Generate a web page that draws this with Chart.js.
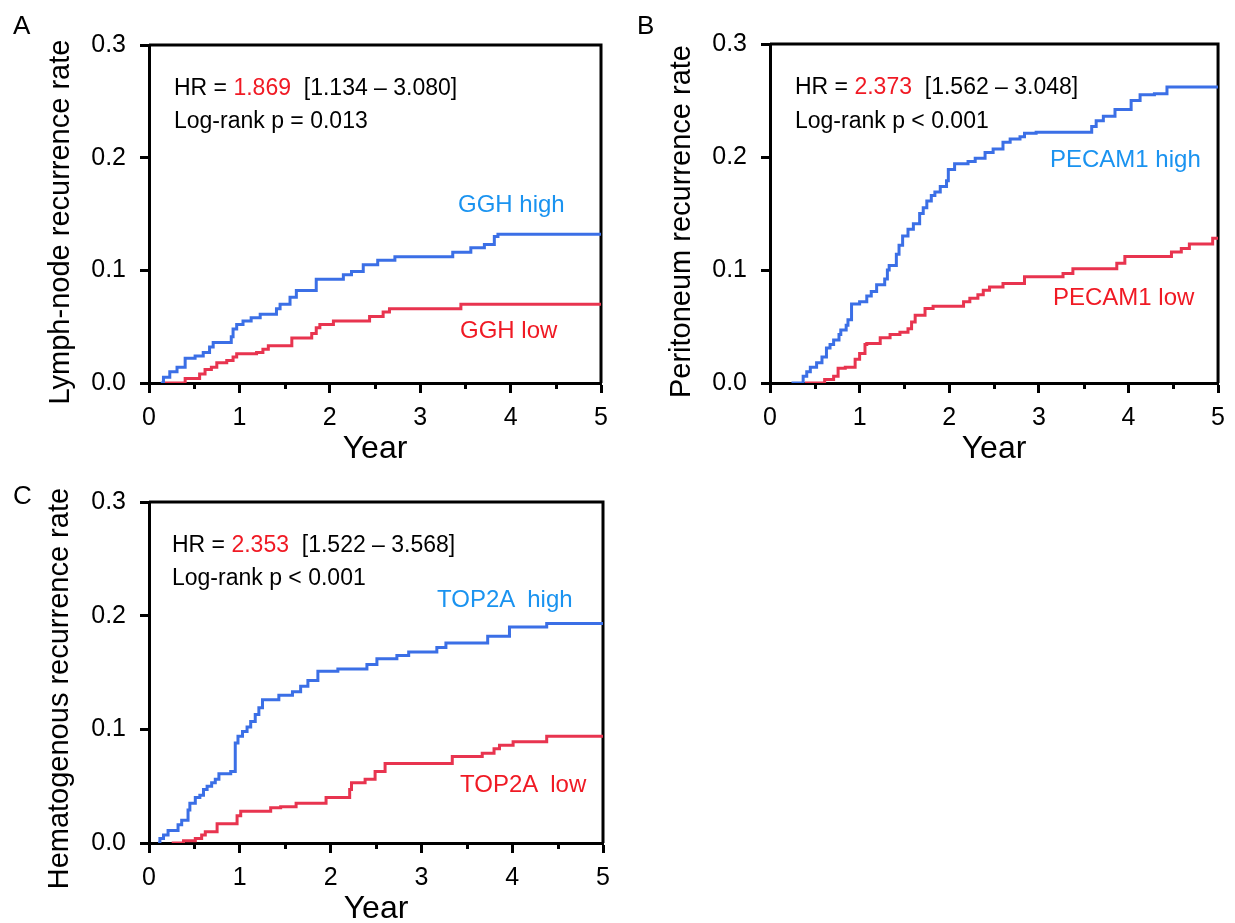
<!DOCTYPE html>
<html>
<head>
<meta charset="utf-8">
<script src="https://cdn.jsdelivr.net/npm/chart.js@4.4.1/dist/chart.umd.min.js"></script>
<style>
  html, body { margin: 0; padding: 0; background: #fff; overflow: hidden; width: 1235px; height: 923px; }
  canvas { position: absolute; }
  .t { position: absolute; white-space: pre; font-family: 'Liberation Sans', Arial, sans-serif; line-height: 1; color: #000; }
</style>
</head>
<body>
<canvas id="cA" width="620" height="470" style="left:0px;top:0px"></canvas>
<canvas id="cB" width="615" height="470" style="left:620px;top:0px"></canvas>
<canvas id="cC" width="620" height="470" style="left:0px;top:460px"></canvas>
<script>
// ---------- data (years, cumulative recurrence rate) ----------
const xTickLabels = ['0', '1', '2', '3', '4', '5'];
const yTickLabels = ['0.0', '0.1', '0.2', '0.3'];

// Panel A: lymph-node recurrence, GGH
const ggHighT = [0.13, 0.16, 0.23, 0.31, 0.40, 0.51, 0.60, 0.67, 0.71, 0.91, 0.93, 0.97, 1.04, 1.13, 1.23, 1.41, 1.45, 1.56, 1.63, 1.85, 2.15, 2.24, 2.37, 2.53, 2.72, 3.36, 3.56, 3.71, 3.82, 3.86, 5];
const ggHighY = [0, 0.005, 0.010, 0.014, 0.022, 0.024, 0.027, 0.032, 0.036, 0.041, 0.048, 0.052, 0.055, 0.058, 0.061, 0.066, 0.070, 0.076, 0.082, 0.092, 0.096, 0.099, 0.105, 0.109, 0.112, 0.116, 0.120, 0.123, 0.130, 0.132, 0.132];
const ggLowT = [0.16, 0.40, 0.56, 0.62, 0.69, 0.75, 0.86, 0.93, 0.97, 1.19, 1.26, 1.32, 1.58, 1.80, 1.85, 1.89, 2.04, 2.44, 2.59, 2.66, 3.45, 5];
const ggLowY = [0, 0.004, 0.008, 0.012, 0.014, 0.018, 0.020, 0.023, 0.026, 0.027, 0.030, 0.033, 0.040, 0.044, 0.049, 0.052, 0.055, 0.059, 0.063, 0.066, 0.070, 0.070];

// Panel B: peritoneum recurrence, PECAM1
const pcHighT = [0.24, 0.37, 0.41, 0.45, 0.52, 0.58, 0.63, 0.67, 0.71, 0.77, 0.79, 0.85, 0.87, 0.91, 1.00, 1.08, 1.13, 1.19, 1.28, 1.31, 1.33, 1.41, 1.44, 1.48, 1.54, 1.60, 1.67, 1.71, 1.75, 1.80, 1.84, 1.90, 1.97, 1.99, 2.06, 2.21, 2.29, 2.40, 2.49, 2.60, 2.68, 2.79, 2.84, 2.97, 3.59, 3.64, 3.72, 3.85, 4.03, 4.13, 4.29, 4.43, 5];
const pcHighY = [0, 0.006, 0.010, 0.014, 0.018, 0.023, 0.031, 0.034, 0.038, 0.043, 0.047, 0.051, 0.056, 0.070, 0.072, 0.077, 0.081, 0.087, 0.092, 0.100, 0.104, 0.114, 0.122, 0.130, 0.136, 0.141, 0.150, 0.155, 0.161, 0.166, 0.169, 0.174, 0.179, 0.189, 0.194, 0.196, 0.199, 0.204, 0.207, 0.213, 0.216, 0.218, 0.221, 0.222, 0.227, 0.232, 0.236, 0.242, 0.250, 0.255, 0.256, 0.262, 0.262];
const pcLowT = [0.39, 0.61, 0.71, 0.76, 0.84, 0.95, 1.00, 1.06, 1.08, 1.23, 1.34, 1.45, 1.54, 1.58, 1.62, 1.73, 1.82, 2.16, 2.23, 2.32, 2.38, 2.45, 2.60, 2.84, 3.27, 3.38, 3.87, 3.96, 4.48, 4.59, 4.68, 4.94, 5];
const pcLowY = [0, 0.003, 0.006, 0.013, 0.014, 0.021, 0.026, 0.034, 0.035, 0.040, 0.043, 0.045, 0.048, 0.054, 0.060, 0.066, 0.068, 0.072, 0.075, 0.078, 0.082, 0.085, 0.088, 0.094, 0.097, 0.101, 0.106, 0.112, 0.116, 0.119, 0.123, 0.128, 0.128];

// Panel C: hematogenous recurrence, TOP2A
const t2HighT = [0.10, 0.12, 0.16, 0.21, 0.32, 0.36, 0.43, 0.45, 0.51, 0.56, 0.60, 0.64, 0.69, 0.73, 0.77, 0.90, 0.95, 0.98, 1.03, 1.08, 1.12, 1.17, 1.21, 1.25, 1.43, 1.58, 1.67, 1.75, 1.86, 2.08, 2.40, 2.51, 2.73, 2.86, 3.17, 3.27, 3.73, 3.97, 4.38, 5];
const t2HighY = [0, 0.004, 0.007, 0.011, 0.016, 0.020, 0.029, 0.035, 0.040, 0.042, 0.047, 0.050, 0.053, 0.056, 0.061, 0.063, 0.088, 0.094, 0.098, 0.102, 0.107, 0.113, 0.119, 0.126, 0.130, 0.133, 0.138, 0.143, 0.151, 0.153, 0.157, 0.162, 0.165, 0.168, 0.172, 0.176, 0.182, 0.190, 0.193, 0.193];
const t2LowT = [0.25, 0.38, 0.51, 0.58, 0.62, 0.75, 0.97, 1.01, 1.34, 1.45, 1.62, 1.95, 2.21, 2.23, 2.38, 2.49, 2.60, 3.34, 3.67, 3.80, 3.86, 4.01, 4.38, 5];
const t2LowY = [0, 0.002, 0.004, 0.007, 0.010, 0.017, 0.024, 0.028, 0.031, 0.032, 0.035, 0.040, 0.047, 0.053, 0.056, 0.063, 0.070, 0.076, 0.079, 0.083, 0.086, 0.089, 0.094, 0.094];

// ---------- styling ----------
const FONT = "'Liberation Sans', Arial, Helvetica, sans-serif";
const BLUE_LINE = '#3b6fe6';
const RED_LINE = '#e8344f';
const BLUE_TEXT = '#1a93f0';
const RED_TEXT = '#f01a24';
Chart.defaults.font.family = FONT;
Chart.defaults.color = '#000';

const framePlugin = {
  id: 'frame',
  beforeDatasetsDraw(chart) {
    const {ctx, chartArea: a, scales: {x}} = chart;
    ctx.save();
    ctx.strokeStyle = '#000';
    ctx.lineWidth = 3;
    ctx.beginPath();
    ctx.moveTo(a.left, a.top); ctx.lineTo(a.right, a.top); ctx.lineTo(a.right, a.bottom);
    ctx.stroke();
    // minor ticks on x axis (half years)
    ctx.beginPath();
    for (let v = 0.5; v < 5; v += 1) {
      const px = Math.round(x.getPixelForValue(v)) + 0.5;
      ctx.moveTo(px, a.bottom); ctx.lineTo(px, a.bottom + 6);
    }
    ctx.stroke();
    ctx.restore();
  }
};

function pts(t, y) { return t.map((v, i) => ({x: v, y: y[i]})); }

function makePanel(id, g, hiT, hiY, loT, loY, yTitle) {
  return new Chart(document.getElementById(id), {
    type: 'line',
    data: {
      datasets: [
        {data: pts(hiT, hiY), borderColor: BLUE_LINE, borderWidth: 3, stepped: 'before', pointRadius: 0, fill: false},
        {data: pts(loT, loY), borderColor: RED_LINE, borderWidth: 3, stepped: 'before', pointRadius: 0, fill: false}
      ]
    },
    options: {
      responsive: false, animation: false, events: [],
      layout: {padding: {top: g.top, right: g.right, left: 0, bottom: 0}},
      plugins: {legend: {display: false}, tooltip: {enabled: false}},
      scales: {
        x: {
          type: 'linear', min: 0, max: 5,
          afterFit: s => { s.height = g.xh; },
          ticks: {stepSize: 0.5, autoSkip: false, maxRotation: 0, padding: 10, color: '#000',
                  font: {size: 25},
                  callback: v => Number.isInteger(v) ? xTickLabels[v] : ''},
          grid: {drawOnChartArea: false, tickLength: 10, tickWidth: 3,
                 tickColor: c => (c.tick && Number.isInteger(c.tick.value)) ? '#000' : 'rgba(0,0,0,0)'},
          border: {color: '#000', width: 3},
          title: {display: true, text: 'Year', color: '#000', font: {size: 32}, padding: {top: 0, bottom: g.yearPad}}
        },
        y: {
          type: 'linear', min: 0, max: 0.3,
          afterFit: s => { s.width = g.yw; },
          ticks: {stepSize: 0.1, padding: 14, color: '#000', font: {size: 25},
                  callback: v => yTickLabels[Math.round(v * 10)]},
          grid: {drawOnChartArea: false, tickLength: 9, tickWidth: 3, tickColor: '#000'},
          border: {color: '#000', width: 3},
          title: {display: true, text: yTitle + '\u00a0'.repeat(g.titleShift), color: '#000', font: {size: 29}, padding: {top: g.titlePad, bottom: 0}}
        }
      }
    },
    plugins: [framePlugin]
  });
}

makePanel('cA', {top: 45, right: 19, xh: 87, yw: 149, yearPad: 2, titlePad: 44, titleShift: 2}, ggHighT, ggHighY, ggLowT, ggLowY, 'Lymph-node recurrence rate');
makePanel('cB', {top: 44, right: 12, xh: 87, yw: 150, yearPad: 2, titlePad: 45, titleShift: 2}, pcHighT, pcHighY, pcLowT, pcLowY, 'Peritoneum recurrence rate');
makePanel('cC', {top: 42, right: 17, xh: 87, yw: 149, yearPad: 2, titlePad: 43, titleShift: 4}, t2HighT, t2HighY, t2LowT, t2LowY, 'Hematogenous recurrence rate');

// ---------- text annotations ----------
function addText(x, baseline, size, html, color) {
  const d = document.createElement('div');
  d.className = 't';
  d.style.left = x + 'px';
  d.style.top = (baseline - 0.847 * size) + 'px';
  d.style.fontSize = size + 'px';
  if (color) d.style.color = color;
  d.innerHTML = html;
  document.body.appendChild(d);
}
const red = s => '<span style="color:' + RED_TEXT + '">' + s + '</span>';

addText(13, 34, 26, 'A');
addText(637, 34, 26, 'B');
addText(13, 504, 26, 'C');

addText(174, 95, 23, 'HR = ' + red('1.869') + '  [1.134 – 3.080]');
addText(174, 128, 23, 'Log-rank p = 0.013');
addText(795, 94, 23, 'HR = ' + red('2.373') + '  [1.562 – 3.048]');
addText(795, 128, 23, 'Log-rank p &lt; 0.001');
addText(172, 552, 23, 'HR = ' + red('2.353') + '  [1.522 – 3.568]');
addText(172, 585, 23, 'Log-rank p &lt; 0.001');

addText(458, 212, 24, 'GGH high', BLUE_TEXT);
addText(460, 338, 24, 'GGH low', RED_TEXT);
addText(1050, 167, 24, 'PECAM1 high', BLUE_TEXT);
addText(1053, 305, 24, 'PECAM1 low', RED_TEXT);
addText(437, 607, 24, 'TOP2A  high', BLUE_TEXT);
addText(460, 792, 24, 'TOP2A  low', RED_TEXT);
</script>
</body>
</html>
